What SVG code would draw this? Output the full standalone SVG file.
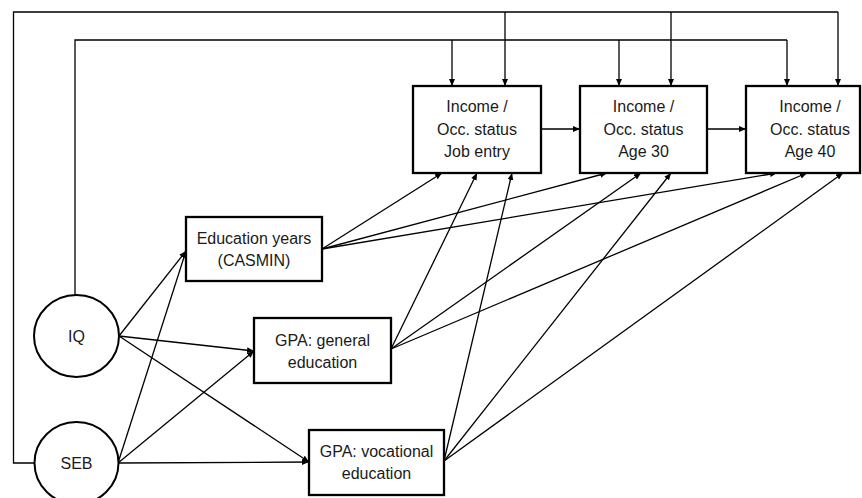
<svg xmlns="http://www.w3.org/2000/svg" width="862" height="498" viewBox="0 0 862 498">
<defs>
<marker id="ah" markerUnits="userSpaceOnUse" markerWidth="8" markerHeight="7" refX="7" refY="3" orient="auto">
<path d="M0,0 L7,3 L0,6 z" fill="#000"/>
</marker>
<style>
.box{fill:#fff;stroke:#000;stroke-width:2.3}
.circ{fill:#fff;stroke:#000;stroke-width:2}
.t{font-family:"Liberation Sans",Arial,sans-serif;font-size:16px;fill:#1a1a1a;text-anchor:middle}
.c{fill:none;stroke:#000;stroke-width:1.3}
.a{fill:none;stroke:#000;stroke-width:1.3;marker-end:url(#ah)}
</style>
</defs>
<rect width="862" height="498" fill="#fff"/>
<g id="connectors">
<polyline class="c" points="34,463 13.5,463 13.5,12 838,12"/>
<path class="a" d="M838,12 L838,86"/>
<path class="a" d="M505,12 L505,86"/>
<path class="a" d="M671,12 L671,86"/>
<polyline class="c" points="75,295 75,40 787,40"/>
<path class="a" d="M787,40 L787,86"/>
<path class="a" d="M452,40 L452,86"/>
<path class="a" d="M619,40 L619,86"/>
<path class="a" d="M541,129 L580,129"/>
<path class="a" d="M707,129 L746,129"/>
<path class="a" d="M119,336 L186,251"/>
<path class="a" d="M118,463 L186,251"/>
<path class="a" d="M119,336 L254,351"/>
<path class="a" d="M118,463 L254,351"/>
<path class="a" d="M119,336 L309,462"/>
<path class="a" d="M118,463 L309,462"/>
<path class="a" d="M322,249 L442,173"/>
<path class="a" d="M322,249 L607,173"/>
<path class="a" d="M322,249 L777,173"/>
<path class="a" d="M391,349 L477,173"/>
<path class="a" d="M391,349 L641,173"/>
<path class="a" d="M391,349 L807,173"/>
<path class="a" d="M444,461 L512,173"/>
<path class="a" d="M444,461 L671,173"/>
<path class="a" d="M444,461 L843,173"/>
</g>
<g id="job-entry">
<rect class="box" x="413" y="86" width="128" height="87"/>
<text class="t" x="477" y="112">Income /</text>
<text class="t" x="477" y="135">Occ. status</text>
<text class="t" x="477" y="157">Job entry</text>
</g>
<g id="age-30">
<rect class="box" x="580" y="86" width="127" height="87"/>
<text class="t" x="643.5" y="112">Income /</text>
<text class="t" x="643.5" y="135">Occ. status</text>
<text class="t" x="643.5" y="157">Age 30</text>
</g>
<g id="age-40">
<rect class="box" x="746" y="86" width="114" height="87"/>
<text class="t" x="810" y="112">Income /</text>
<text class="t" x="810" y="135">Occ. status</text>
<text class="t" x="810" y="157">Age 40</text>
</g>
<g id="education-years">
<rect class="box" x="186" y="217" width="136" height="64"/>
<text class="t" x="254" y="244">Education years</text>
<text class="t" x="254" y="266">(CASMIN)</text>
</g>
<g id="gpa-general">
<rect class="box" x="254" y="318" width="137" height="65"/>
<text class="t" x="322.5" y="346">GPA: general</text>
<text class="t" x="322.5" y="368">education</text>
</g>
<g id="gpa-vocational">
<rect class="box" x="309" y="430" width="135" height="65"/>
<text class="t" x="376.5" y="457">GPA: vocational</text>
<text class="t" x="376.5" y="479">education</text>
</g>
<g id="iq">
<ellipse class="circ" cx="76.5" cy="336" rx="42.5" ry="41"/>
<text class="t" x="76.5" y="342">IQ</text>
</g>
<g id="seb">
<ellipse class="circ" cx="76.5" cy="463" rx="42" ry="41"/>
<text class="t" x="76.5" y="469">SEB</text>
</g>
</svg>
